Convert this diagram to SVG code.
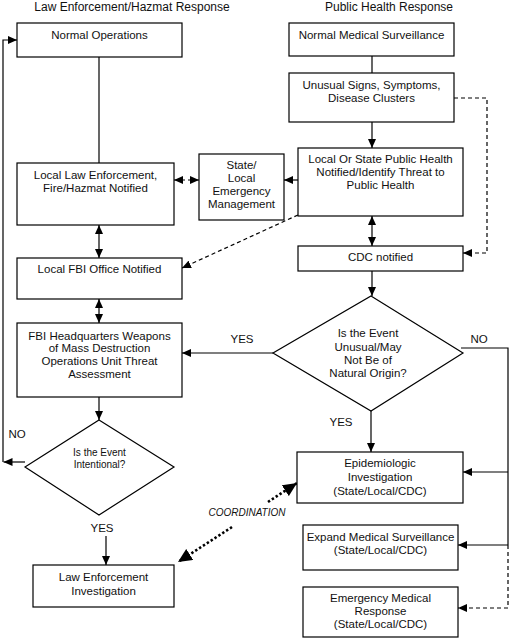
<svg xmlns="http://www.w3.org/2000/svg" width="512" height="639" viewBox="0 0 512 639">
<defs>
<style>
.box{fill:#fff;stroke:#000;stroke-width:1.2}
.t{font-family:"Liberation Sans",Arial,sans-serif;font-size:11.5px;fill:#111;text-anchor:middle}
.s{font-size:10px}
.h{font-size:12px}
.c{font-size:10px;font-style:italic}
.ln{fill:none;stroke:#000;stroke-width:1.2}
.d{stroke-dasharray:4 3}
.dot{fill:none;stroke:#000;stroke-width:2.6;stroke-dasharray:2.4 2.2}
</style>
<marker id="a" markerUnits="userSpaceOnUse" markerWidth="9" markerHeight="8" refX="9" refY="4" orient="auto-start-reverse">
<path d="M0,0 L9,4 L0,8 z" fill="#000"/>
</marker>
<marker id="b" markerUnits="userSpaceOnUse" markerWidth="14" markerHeight="13" refX="14" refY="6.5" orient="auto">
<path d="M0,0 L14,6.5 L0,13 z" fill="#000"/>
</marker>
</defs>
<rect width="512" height="639" fill="#fff"/>

<g id="titles">
<text class="t h" x="132" y="11">Law Enforcement/Hazmat Response</text>
<text class="t h" x="389" y="11">Public Health Response</text>
</g>

<g id="connectors">
<path class="ln" d="M99,57 V163"/>
<path class="ln" d="M25,462 H3.5" marker-end="url(#a)"/>
<path class="ln" d="M3,462 V40 H17" marker-end="url(#a)"/>
<path class="ln d" d="M174,180 H199" marker-start="url(#a)" marker-end="url(#a)"/>
<path class="ln" d="M298,180 H284" marker-end="url(#a)"/>
<path class="ln d" d="M298,215 L182,268" marker-end="url(#a)"/>
<path class="ln" d="M372,56 V73"/>
<path class="ln" d="M372,122 V148" marker-end="url(#a)"/>
<path class="ln d" d="M454,98 H487 V253 H463" marker-end="url(#a)"/>
<path class="ln" d="M372,216 V246" marker-start="url(#a)" marker-end="url(#a)"/>
<path class="ln" d="M372,271 V296" marker-end="url(#a)"/>
<path class="ln" d="M273,353 H182" marker-end="url(#a)"/>
<path class="ln" d="M371,411 V452" marker-end="url(#a)"/>
<path class="ln" d="M461,348 H508 V545"/>
<path class="ln" d="M508,472 H463" marker-end="url(#a)"/>
<path class="ln" d="M508,545 H458" marker-end="url(#a)"/>
<path class="ln d" d="M508,545 V608 H458" marker-end="url(#a)"/>
<path class="ln" d="M99,225 V258" marker-start="url(#a)" marker-end="url(#a)"/>
<path class="ln" d="M99,299 V323" marker-start="url(#a)" marker-end="url(#a)"/>
<path class="ln" d="M99,397 V420" marker-end="url(#a)"/>
<path class="ln" d="M106,536 V565" marker-end="url(#a)"/>
<path class="dot" d="M268,502 L297,483" marker-end="url(#b)"/>
<path class="dot" d="M232,527 L178,562" marker-end="url(#b)"/>
<text class="t" x="242" y="343">YES</text>
<text class="t" x="341" y="426">YES</text>
<text class="t" x="479" y="343">NO</text>
<text class="t" x="17" y="438">NO</text>
<text class="t" x="102" y="532">YES</text>
<text class="t c" x="247" y="516">COORDINATION</text>
</g>

<g id="normal-operations">
<rect class="box" x="17" y="23" width="165" height="34"/>
<text class="t" x="99.5" y="39">Normal Operations</text>
</g>
<g id="normal-medical-surveillance">
<rect class="box" x="289" y="23" width="165" height="33"/>
<text class="t" x="371.5" y="39">Normal Medical Surveillance</text>
</g>
<g id="unusual-signs">
<rect class="box" x="289" y="73" width="165" height="49"/>
<text class="t" x="371.5" y="89">Unusual Signs, Symptoms,</text>
<text class="t" x="371.5" y="102">Disease Clusters</text>
</g>
<g id="public-health-notified">
<rect class="box" x="298" y="148" width="165" height="68"/>
<text class="t" x="380.5" y="163">Local Or State Public Health</text>
<text class="t" x="380.5" y="176">Notified/Identify Threat to</text>
<text class="t" x="380.5" y="189">Public Health</text>
</g>
<g id="local-law-enforcement">
<rect class="box" x="17" y="163" width="157" height="62"/>
<text class="t" x="95.5" y="179">Local Law Enforcement,</text>
<text class="t" x="95.5" y="192">Fire/Hazmat Notified</text>
</g>
<g id="emergency-management">
<rect class="box" x="199" y="154" width="85" height="66"/>
<text class="t" x="241.5" y="169">State/</text>
<text class="t" x="241.5" y="182">Local</text>
<text class="t" x="241.5" y="195">Emergency</text>
<text class="t" x="241.5" y="208">Management</text>
</g>
<g id="local-fbi">
<rect class="box" x="17" y="258" width="165" height="41"/>
<text class="t" x="99.5" y="273">Local FBI Office Notified</text>
</g>
<g id="cdc-notified">
<rect class="box" x="298" y="246" width="165" height="25"/>
<text class="t" x="380.5" y="261">CDC notified</text>
</g>
<g id="fbi-hq">
<rect class="box" x="17" y="323" width="165" height="74"/>
<text class="t" x="99.5" y="340">FBI Headquarters Weapons</text>
<text class="t" x="99.5" y="352">of Mass Destruction</text>
<text class="t" x="99.5" y="365">Operations Unit Threat</text>
<text class="t" x="99.5" y="378">Assessment</text>
</g>
<g id="decision-unusual">
<polygon class="box" points="371,296 463,353 371,411 273,353"/>
<text class="t" x="368" y="337">Is the Event</text>
<text class="t" x="368" y="351">Unusual/May</text>
<text class="t" x="368" y="364">Not Be of</text>
<text class="t" x="368" y="377">Natural Origin?</text>
</g>
<g id="decision-intentional">
<polygon class="box" points="99,420 174,467 99,515 25,467"/>
<text class="t s" x="99.5" y="456">Is the Event</text>
<text class="t s" x="99.5" y="468">Intentional?</text>
</g>
<g id="law-enforcement-investigation">
<rect class="box" x="33" y="565" width="141" height="42"/>
<text class="t" x="103.5" y="581">Law Enforcement</text>
<text class="t" x="103.5" y="595">Investigation</text>
</g>
<g id="epidemiologic-investigation">
<rect class="box" x="297" y="452" width="166" height="51"/>
<text class="t" x="380" y="467">Epidemiologic</text>
<text class="t" x="380" y="481">Investigation</text>
<text class="t" x="380" y="495">(State/Local/CDC)</text>
</g>
<g id="expand-surveillance">
<rect class="box" x="303" y="525" width="155" height="45"/>
<text class="t" x="380.5" y="541">Expand Medical Surveillance</text>
<text class="t" x="380.5" y="554">(State/Local/CDC)</text>
</g>
<g id="emergency-medical-response">
<rect class="box" x="303" y="587" width="155" height="50"/>
<text class="t" x="380.5" y="602">Emergency Medical</text>
<text class="t" x="380.5" y="615">Response</text>
<text class="t" x="380.5" y="628">(State/Local/CDC)</text>
</g>
</svg>
